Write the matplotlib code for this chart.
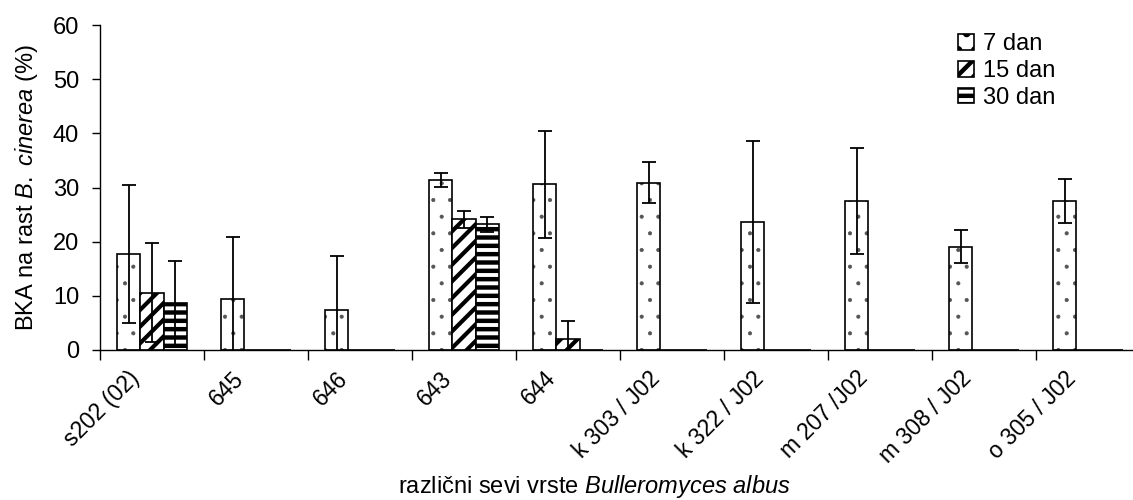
import numpy as np
import matplotlib
matplotlib.use("Agg")
import matplotlib.pyplot as plt
from matplotlib.ticker import FixedLocator, NullFormatter, FixedFormatter

plt.rcParams['font.family'] = ['Liberation Sans', 'DejaVu Sans']
plt.rcParams['mathtext.fontset'] = 'custom'
plt.rcParams['mathtext.rm'] = 'Liberation Sans'
plt.rcParams['mathtext.it'] = 'Liberation Sans:italic'

# podatki
sevi = ["s202 (02)", "645", "646", "643", "644", "k 303 / J02", "k 322 / J02",
        "m 207 /J02", "m 308 / J02", "o 305 / J02"]
serije = ["7 dan", "15 dan", "30 dan"]
dan7 = [17.7, 9.5, 7.3, 31.4, 30.6, 30.9, 23.6, 27.5, 19.1, 27.5]
dan7_err = [12.7, 11.3, 10.1, 1.3, 9.9, 3.8, 15.0, 9.8, 3.1, 4.1]
dan15 = [10.6, 0, 0, 24.1, 2.0, 0, 0, 0, 0, 0]
dan15_err = [9.1, 0, 0, 1.6, 3.4, 0, 0, 0, 0, 0]
dan30 = [8.6, 0, 0, 23.2, 0, 0, 0, 0, 0, 0]
dan30_err = [7.9, 0, 0, 1.4, 0, 0, 0, 0, 0, 0]

fs = 17
fig = plt.figure(figsize=(11.33, 5.0), dpi=100)
ax = fig.add_axes([100 / 1133, 0.30, 1040 / 1133, 0.65])

x = np.arange(len(sevi))
w = 0.222
vrednosti = [dan7, dan15, dan30]
napake = [dan7_err, dan15_err, dan30_err]
vzorci = ['.', '//', '--']
debeline = [0.5, 3.0, 3.2]
barve_vzorca = ['#555555', 'black', 'black']

for i in range(3):
    plt.rcParams['hatch.linewidth'] = debeline[i]
    pos = x + (i - 1) * w
    # vzorec (barva vzorca = barva roba) in nato crn rob
    ax.bar(pos, vrednosti[i], w, color='white', edgecolor=barve_vzorca[i], linewidth=0,
           hatch=vzorci[i], zorder=2)
    ax.bar(pos, vrednosti[i], w, fill=False, edgecolor='black', linewidth=1.2, zorder=2)
    v = np.array(vrednosti[i])
    e = np.array(napake[i])
    m = v > 0
    ax.errorbar(pos[m], v[m], yerr=e[m], fmt='none', ecolor='black', elinewidth=1.3,
                capsize=5, capthick=1.3, zorder=3)

ax.set_ylim(0, 60)
ax.set_xlim(-0.5, len(sevi) - 0.5)
ax.set_yticks(np.arange(0, 61, 10))
ax.tick_params(axis='y', labelsize=fs, length=6, width=1, direction='out', pad=9)

ax.xaxis.set_major_locator(FixedLocator(np.arange(-0.5, len(sevi), 1.0)))
ax.xaxis.set_major_formatter(NullFormatter())
ax.xaxis.set_minor_locator(FixedLocator(x - 0.15))
ax.xaxis.set_minor_formatter(FixedFormatter(sevi))
ax.tick_params(axis='x', which='major', length=7, width=1, direction='out')
ax.tick_params(axis='x', which='minor', length=0, labelsize=16.5, pad=18)
for lab in ax.xaxis.get_minorticklabels():
    lab.set_rotation(45)
    lab.set_ha('right')
    lab.set_va('center')
    lab.set_rotation_mode('anchor')

for s in ['top', 'right']:
    ax.spines[s].set_visible(False)
ax.spines['left'].set_linewidth(1)
ax.spines['bottom'].set_linewidth(1)

ax.set_ylabel(r'BKA na rast $\mathit{B.\ cinerea}$ (%)', fontsize=fs, labelpad=9)
fig.text(0.525, 0.0, r'različni sevi vrste $\mathit{Bulleromyces\ albus}$',
         fontsize=fs, ha='center', va='bottom')

# legenda brez okvirja
hatch_handles = []
for i in range(3):
    plt.rcParams['hatch.linewidth'] = debeline[i]
    hatch_handles.append(plt.Rectangle((0, 0), 1, 1, facecolor='white', edgecolor='black',
                                       linewidth=1.2, hatch=vzorci[i]))
ax.legend(hatch_handles, serije, loc='upper left', bbox_to_anchor=(0.805, 1.04),
          frameon=False, fontsize=fs, handlelength=0.65, handleheight=0.65,
          handletextpad=0.4, labelspacing=0.2)

fig.savefig('out.png', dpi=100)
